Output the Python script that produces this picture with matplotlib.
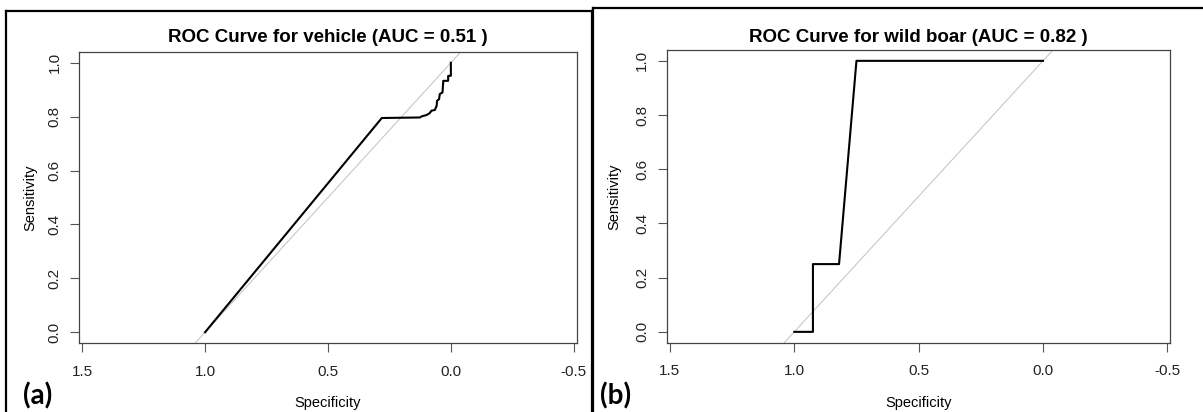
import matplotlib
matplotlib.use("Agg")
import matplotlib.pyplot as plt
from matplotlib.lines import Line2D

plt.rcParams['font.family'] = ['Liberation Sans', 'DejaVu Sans']

# panel (a): vehicle
spec_a = [1.0, 0.281, 0.126, 0.119, 0.099, 0.086, 0.079, 0.065, 0.058, 0.056,
          0.048, 0.045, 0.034, 0.031, 0.031, 0.011, 0.011, 0.0, 0.0]
sens_a = [0.0, 0.795, 0.797, 0.801, 0.806, 0.813, 0.822, 0.825, 0.840, 0.859,
          0.865, 0.884, 0.890, 0.930, 0.933, 0.933, 0.951, 0.952, 1.0]
title_a = "ROC Curve for vehicle (AUC = 0.51 )"

# panel (b): wild boar
spec_b = [1.0, 0.925, 0.925, 0.82, 0.75, 0.0]
sens_b = [0.0, 0.0, 0.25, 0.25, 1.0, 1.0]
title_b = "ROC Curve for wild boar (AUC = 0.82 )"

xticks = [1.5, 1.0, 0.5, 0.0, -0.5]
yticks = [0.0, 0.2, 0.4, 0.6, 0.8, 1.0]

W, H = 1203, 412
fig = plt.figure(figsize=(W / 100, H / 100), dpi=100)


def draw_panel(rect, spec, sens, title, tag, tag_x, ylab_x):
    ax = fig.add_axes(rect)
    ax.plot([1.04, -0.04], [-0.04, 1.04], color="#c8c8c8", lw=0.8)
    ax.plot(spec, sens, color="black", lw=1.5)
    ax.set_xlim(1.513, -0.512)
    ax.set_ylim(-0.04, 1.04)
    ax.set_xticks(xticks)
    ax.set_xticklabels(["%.1f" % v for v in xticks])
    ax.set_yticks(yticks)
    ax.set_yticklabels(["%.1f" % v for v in yticks], rotation=90, va="center")
    ax.tick_params(length=6.5, width=0.8, color="#555555", labelsize=11,
                   labelcolor="#222222")
    ax.tick_params(axis="x", pad=9)
    ax.tick_params(axis="y", pad=6)
    for s in ax.spines.values():
        s.set_color("#444444")
        s.set_linewidth(0.9)
    x0, y0, w, h = rect
    fig.text(x0 + w / 2, 1 - 37 / H, title, ha="center", va="center",
             fontsize=13.5, fontweight="bold")
    fig.text(x0 + w / 2, 1 - 403 / H, "Specificity", ha="center", va="center",
             fontsize=10.5)
    fig.text(ylab_x / W, y0 + h / 2, "Sensitivity", ha="center", va="center",
             rotation=90, fontsize=10.5)
    fig.text(tag_x / W, 1 - 396 / H, tag, ha="center", va="center",
             fontsize=20, fontweight="bold", family=["Lato", "DejaVu Sans"])
    return ax


draw_panel([79 / W, 69 / H, 497.7 / W, 291 / H], spec_a, sens_a, title_a,
           "(a)", 38, 30)
draw_panel([666.7 / W, 69.3 / H, 503.6 / W, 292.7 / H], spec_b, sens_b, title_b,
           "(b)", 616, 614)

# panel frames
def hline(x1, x2, y):
    fig.add_artist(Line2D([x1 / W, x2 / W], [1 - y / H, 1 - y / H],
                          color="black", lw=1.6))


def vline(x, y1, y2):
    fig.add_artist(Line2D([x / W, x / W], [1 - y1 / H, 1 - y2 / H],
                          color="black", lw=1.6))


hline(6, 592, 11)
vline(6, 11, 420)
vline(592, 11, 420)
hline(593, 1210, 8)
vline(593, 8, 420)

fig.savefig("out.png", dpi=100)
